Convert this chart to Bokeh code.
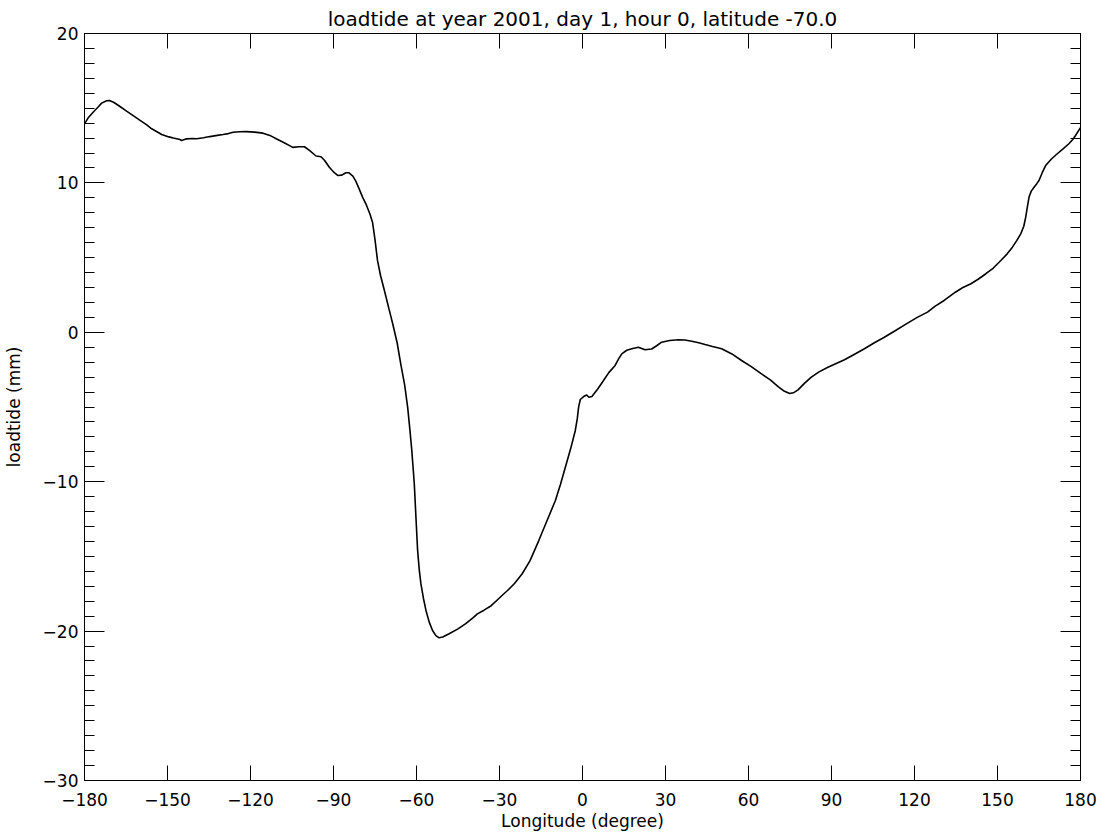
import math
from bokeh.plotting import figure
from bokeh.models import Range1d, LinearAxis, SingleIntervalTicker, CustomLabelingPolicy
from bokeh.embed import file_html
from bokeh.resources import INLINE

title_text = "loadtide at year 2001, day 1, hour 0, latitude -70.0"
x_label = "Longitude (degree)"
y_label = "loadtide (mm)"

lon = [-180, -178.5, -176.8, -175, -173.8, -172, -171, -169.5, -167.7, -164.8,
       -162, -159.9, -157.5, -155.7, -152.1, -149.5, -147.9, -145.5, -144.9, -143.1,
       -141, -139.5, -137, -134.7, -132, -129.9, -128, -126.3, -124, -121.5,
       -118.5, -115.5, -113, -110.7, -108, -104.7, -102.5, -100.5, -98.7, -96.3,
       -94.5, -93.2, -91.5, -89.8, -88.5, -87, -85.5, -84.5, -83, -81.9,
       -80.5, -79.5, -78.3, -76.8, -75.9, -75, -74.1, -73, -71.6, -70,
       -68.6, -67, -65.7, -64.3, -63.2, -62.4, -61.7, -60.8, -60.2, -59.6,
       -59.0, -58.4, -57.5, -56.6, -55.4, -54.2, -53, -51.8, -50.5, -48.2,
       -45, -42.2, -39.5, -38, -35.6, -33, -31, -29, -27.2, -24.5,
       -21.8, -19, -15.8, -12.8, -9.8, -8, -6.2, -4.3, -2.6, -1.9,
       -1.4, -0.8, 0.4, 1.5, 2.3, 3.4, 5.5, 7.6, 9.5, 11.8,
       13, 14.2, 16, 17.8, 20.2, 22.6, 25.0, 26.8, 28.6, 31.5,
       34.7, 37, 39.5, 42, 44.3, 47, 50.3, 54, 57.5, 61,
       64.7, 68, 70.7, 73, 74.9, 76.2, 77.9, 80.3, 82.7, 85.5,
       88.7, 91.5, 94.7, 98, 101.9, 105.5, 109.1, 113, 117.5, 121,
       124.7, 127.5, 130.7, 134.9, 137.5, 140.4, 143, 145.8, 148.5, 151.2,
       153.5, 155.4, 157, 158.4, 159.5, 160.2, 160.8, 161.4, 162.2, 163.2,
       164.2, 165.0, 166.2, 167.4, 169.5, 171.6, 173.8, 175.8, 177.2, 178.2,
       180]

loadtide = [13.95, 14.4, 14.75, 15.1, 15.34, 15.5, 15.52, 15.4, 15.18, 14.8,
            14.45, 14.18, 13.88, 13.62, 13.24, 13.08, 13.0, 12.9, 12.84, 12.95,
            12.97, 12.95, 13.02, 13.1, 13.18, 13.24, 13.3, 13.39, 13.42, 13.43,
            13.4, 13.33, 13.18, 12.95, 12.7, 12.38, 12.42, 12.42, 12.17, 11.8,
            11.75, 11.5, 11.05, 10.7, 10.5, 10.52, 10.68, 10.68, 10.45, 10.1,
            9.5, 9.05, 8.6, 7.9, 7.37, 6.2, 4.81, 3.8, 2.8, 1.6,
            0.57, -0.7, -2.11, -3.5, -5.01, -6.5, -7.91, -10.14, -12.38, -14.6,
            -15.9, -16.84, -17.8, -18.6, -19.4, -19.96, -20.3, -20.45, -20.4, -20.18,
            -19.85, -19.5, -19.1, -18.85, -18.6, -18.3, -17.95, -17.6, -17.3, -16.8,
            -16.16, -15.3, -13.94, -12.6, -11.26, -10.2, -9.03, -7.8, -6.57, -5.8,
            -5.01, -4.5, -4.3, -4.2, -4.35, -4.3, -3.8, -3.23, -2.7, -2.22,
            -1.8, -1.44, -1.2, -1.1, -1.0, -1.17, -1.12, -0.9, -0.66, -0.55,
            -0.5, -0.52, -0.6, -0.7, -0.82, -0.95, -1.1, -1.45, -1.89, -2.3,
            -2.78, -3.2, -3.63, -3.95, -4.1, -4.05, -3.85, -3.4, -3.0, -2.65,
            -2.34, -2.1, -1.84, -1.5, -1.1, -0.7, -0.33, 0.1, 0.61, 1.0,
            1.35, 1.75, 2.13, 2.7, 3.0, 3.25, 3.55, 3.92, 4.3, 4.81,
            5.25, 5.70, 6.15, 6.59, 7.1, 7.71, 8.4, 9.05, 9.45, 9.71,
            9.95, 10.16, 10.7, 11.16, 11.6, 11.95, 12.3, 12.62, 12.9, 13.17,
            13.7]

x_min, x_max, x_step = -180, 180, 30
y_min, y_max, y_step = -30, 20, 10

FONT = "DejaVu Sans"

p = figure(width=1100, height=833, output_backend="svg", toolbar_location=None,
           x_range=Range1d(x_min, x_max), y_range=Range1d(y_min, y_max),
           x_axis_location=None, y_axis_location=None,
           min_border_left=81, min_border_right=20, min_border_top=33, min_border_bottom=53)
p.xgrid.visible = False
p.ygrid.visible = False
p.outline_line_color = "black"
p.outline_line_width = 1
p.background_fill_color = "white"
p.border_fill_color = "white"

p.title.text = title_text
p.title.text_font = FONT
p.title.text_font_size = "20px"
p.title.text_font_style = "normal"
p.title.text_color = "black"
p.title.align = "center"
p.title.standoff = 6

hide_labels = CustomLabelingPolicy(code="""
const arr = [...indices];
for (const i of arr) { indices.unset(i); }
return indices;
""")

def make_x_axis(show_labels):
    ax = LinearAxis(ticker=SingleIntervalTicker(interval=x_step, num_minor_ticks=0))
    ax.major_tick_in = 15
    ax.major_tick_out = 0
    ax.minor_tick_in = 0
    ax.minor_tick_out = 0
    ax.axis_line_color = "black"
    ax.major_tick_line_color = "black"
    if show_labels:
        ax.major_label_text_font = FONT
        ax.major_label_text_font_size = "17px"
        ax.major_label_text_color = "black"
        ax.major_label_standoff = 12
        ax.axis_label = x_label
        ax.axis_label_text_font = FONT
        ax.axis_label_text_font_size = "17px"
        ax.axis_label_text_font_style = "normal"
        ax.axis_label_text_color = "black"
        ax.axis_label_standoff = 2
    else:
        ax.major_label_text_font_size = "0px"
        ax.major_label_standoff = 0
        ax.major_label_policy = hide_labels
    return ax

def make_y_axis(show_labels):
    ax = LinearAxis(ticker=SingleIntervalTicker(interval=y_step, num_minor_ticks=10))
    ax.major_tick_in = 20
    ax.major_tick_out = 0
    ax.minor_tick_in = 10
    ax.minor_tick_out = 0
    ax.axis_line_color = "black"
    ax.major_tick_line_color = "black"
    ax.minor_tick_line_color = "black"
    if show_labels:
        ax.major_label_text_font = FONT
        ax.major_label_text_font_size = "17px"
        ax.major_label_text_color = "black"
        ax.major_label_standoff = 6
        ax.axis_label = y_label
        ax.axis_label_text_font = FONT
        ax.axis_label_text_font_size = "17px"
        ax.axis_label_text_font_style = "normal"
        ax.axis_label_text_color = "black"
        ax.axis_label_standoff = 16
    else:
        ax.major_label_text_font_size = "0px"
        ax.major_label_standoff = 0
        ax.major_label_policy = hide_labels
    return ax

p.add_layout(make_x_axis(True), "below")
p.add_layout(make_x_axis(False), "above")
p.add_layout(make_y_axis(True), "left")
p.add_layout(make_y_axis(False), "right")

p.line(lon, loadtide, line_color="black", line_width=1.6)

open("out.html", "w").write(file_html(p, INLINE))
